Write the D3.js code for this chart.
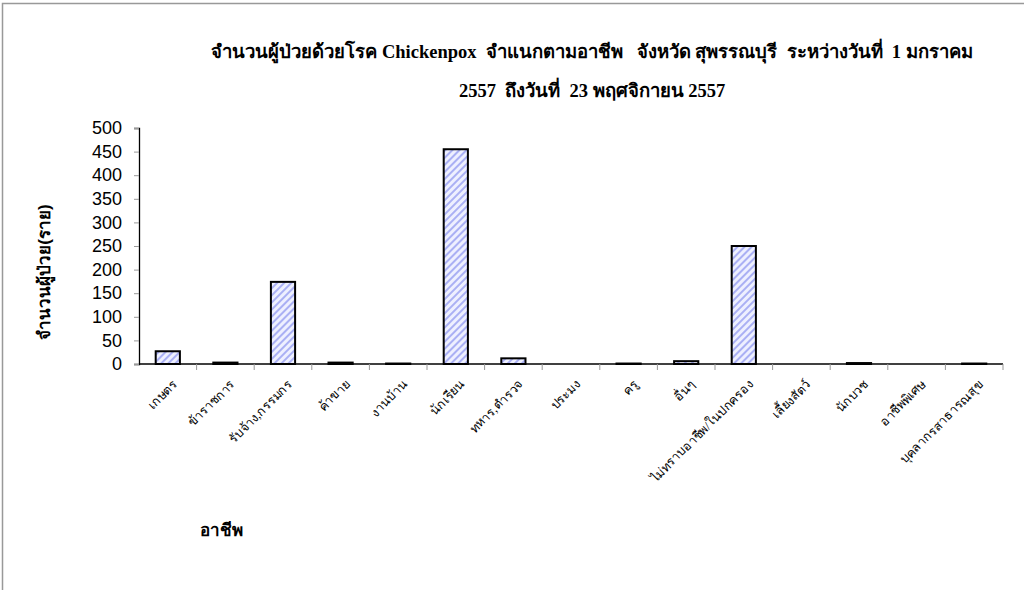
<!DOCTYPE html>
<html>
<head>
<meta charset="utf-8">
<script src="https://cdn.jsdelivr.net/npm/d3@7"></script>
<style>
  body { margin: 0; background: #fff; }
  svg { display: block; }
  .title { white-space: pre; }
</style>
</head>
<body>
<svg id="chart" width="1024" height="590"></svg>
<script>
// occupations and patient counts
const occupations = ["เกษตร", "ข้าราชการ", "รับจ้าง,กรรมกร", "ค้าขาย", "งานบ้าน", "นักเรียน",
    "ทหาร,ตำรวจ", "ประมง", "ครู", "อื่นๆ", "ไม่ทราบอาชีพ/ในปกครอง", "เลี้ยงสัตว์",
    "นักบวช", "อาชีพพิเศษ", "บุคลากรสาธารณสุข"];
const patients = [27, 3, 174, 3, 1, 455, 12, 0, 1, 6, 250, 0, 2, 0, 1];
const yTicks = [0, 50, 100, 150, 200, 250, 300, 350, 400, 450, 500];
const titleLines = ["จำนวนผู้ป่วยด้วยโรค Chickenpox  จำแนกตามอาชีพ   จังหวัด สุพรรณบุรี  ระหว่างวันที่  1 มกราคม",
    "2557  ถึงวันที่  23 พฤศจิกายน 2557"];

let margin = {top: 128, left: 139, right: 21, bottom: 226};
let width = 1024, height = 590;
let svg = d3.select("#chart");

// outer frame, cut off at right and bottom like the source
svg.append("rect")
    .attr("x", 2.5).attr("y", 3.5)
    .attr("width", 1040).attr("height", 620)
    .attr("fill", "none")
    .attr("stroke", "#999")
    .attr("stroke-width", 1.5);

// hatched fill
let defs = svg.append("defs");
let pat = defs.append("pattern")
    .attr("id", "hatch")
    .attr("patternUnits", "userSpaceOnUse")
    .attr("width", 5).attr("height", 5)
    .attr("patternTransform", "rotate(45)");
pat.append("rect").attr("width", 5).attr("height", 5).attr("fill", "#eef0ff");
pat.append("rect").attr("width", 2).attr("height", 5).attr("fill", "#aab0f4");

let x = d3.scaleBand()
    .domain(occupations)
    .range([margin.left, width - margin.right])
    .paddingInner(0.58)
    .paddingOuter(0.29);

let y = d3.scaleLinear()
    .domain([0, 500])
    .range([height - margin.bottom, margin.top]);

// y axis
let yAxis = svg.append("g")
    .attr("transform", "translate(" + margin.left + ",0)")
    .call(d3.axisLeft(y).tickValues(yTicks).tickSize(5).tickPadding(12));
yAxis.select(".domain").attr("stroke", "#000").attr("stroke-width", 1.3);
yAxis.selectAll(".tick line").attr("stroke", "#999");
yAxis.selectAll("text")
    .attr("font-family", "Liberation Sans, Arial, sans-serif")
    .attr("font-size", 18)
    .attr("fill", "#000");

// x axis: ticks at band boundaries
let xAxisG = svg.append("g");
xAxisG.append("line")
    .attr("x1", margin.left).attr("x2", width - margin.right)
    .attr("y1", y(0)).attr("y2", y(0))
    .attr("stroke", "#000").attr("stroke-width", 1.3);
let bounds = d3.range(occupations.length + 1).map(i => margin.left + i * (width - margin.left - margin.right) / occupations.length);
xAxisG.selectAll(".xtick").data(bounds.slice(1)).enter().append("line")
    .attr("x1", d => d).attr("x2", d => d)
    .attr("y1", y(0)).attr("y2", y(0) + 6)
    .attr("stroke", "#999");

// bars
svg.append("g").selectAll("rect").data(patients).enter().append("rect")
    .attr("x", (d, i) => x(occupations[i]))
    .attr("y", d => y(d))
    .attr("width", x.bandwidth())
    .attr("height", d => y(0) - y(d))
    .attr("fill", "url(#hatch)")
    .attr("stroke", d => d > 0 ? "#000" : "none")
    .attr("stroke-width", 2);

// category labels, rotated
svg.append("g").selectAll("text").data(occupations).enter().append("text")
    .attr("transform", d => "translate(" + (x(d) + x.bandwidth() / 2 + 10) + "," + (y(0) + 21) + ") rotate(-45)")
    .attr("text-anchor", "end")
    .attr("font-family", "Liberation Serif, 'Times New Roman', serif")
    .attr("font-size", 12.5)
    .text(d => d);

// titles
svg.append("g").selectAll("text").data(titleLines).enter().append("text")
    .attr("class", "title")
    .attr("x", 592)
    .attr("y", (d, i) => 58 + i * 39)
    .attr("text-anchor", "middle")
    .attr("font-family", "Liberation Serif, 'Times New Roman', serif")
    .attr("font-weight", "bold")
    .attr("font-size", 18.5)
    .text(d => d);

svg.append("text")
    .attr("transform", "translate(50,272) rotate(-90)")
    .attr("text-anchor", "middle")
    .attr("font-family", "Liberation Sans, Arial, sans-serif")
    .attr("font-weight", "bold")
    .attr("font-size", 17)
    .text("จำนวนผู้ป่วย(ราย)");

svg.append("text")
    .attr("x", 221).attr("y", 536)
    .attr("text-anchor", "middle")
    .attr("font-family", "Liberation Sans, Arial, sans-serif")
    .attr("font-weight", "bold")
    .attr("font-size", 17)
    .text("อาชีพ");
</script>
</body>
</html>
